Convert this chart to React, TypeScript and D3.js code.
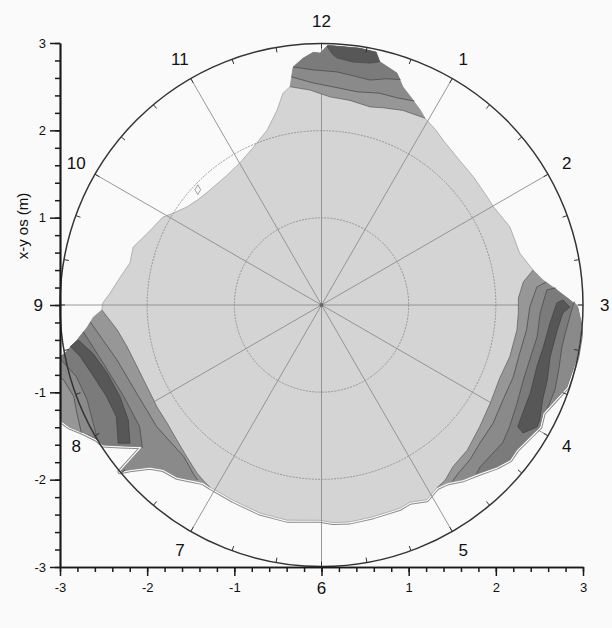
import { useEffect, useRef } from "react";
import * as d3 from "d3";

// every point is [clock angle in degrees (0 = 12 o'clock, clockwise), radius in m]
type P = [number, number];

const clockLabels = ["12", "1", "2", "3", "4", "5", "6", "7", "8", "9", "10", "11"];
const axisTicks = [-3, -2, -1, 0, 1, 2, 3];
const ringRadii = [1, 2];
const yTitle = "x-y os (m)";

// outer edge of the measured area
const outerEdge: P[] = [
  [-8.2, 2.53], [-6.8, 2.75], [-4.3, 2.84], [-1.9, 2.9], [-0.3, 2.89], [1.4, 2.98], [8.4, 2.98], [12.2, 2.97],
  [13.5, 2.87], [18, 2.8], [20.5, 2.67], [26.8, 2.51], [29, 2.45], [33, 2.4], [36.4, 2.35], [42.5, 2.3],
  [50, 2.28], [56.9, 2.27], [60, 2.27], [67.5, 2.34], [75.3, 2.35], [80.6, 2.46], [83.6, 2.56], [86.4, 2.71],
  [88.8, 2.85], [90.4, 2.94], [94, 2.99], [97.1, 2.99], [101.5, 2.99], [104.5, 2.98], [108.5, 2.97], [112.9, 2.88],
  [116, 2.83], [119.2, 2.87], [122.3, 2.83], [126.6, 2.79], [129.4, 2.8], [132.7, 2.74], [136.7, 2.65], [141, 2.58],
  [144.8, 2.5], [147.7, 2.48], [151.6, 2.54], [155.8, 2.48], [158.9, 2.5], [166.3, 2.5], [172.5, 2.51], [177, 2.5],
  [180.4, 2.47], [189.1, 2.5], [196.5, 2.49], [204.4, 2.46], [211.5, 2.45], [213.7, 2.45], [216.9, 2.51], [220, 2.58],
  [223.9, 2.62], [226.6, 2.71], [229.3, 2.9], [230.4, 3.0], [231.6, 2.62], [235, 2.82], [237.4, 2.98], [239, 3.0],
  [241.8, 3.1], [244.1, 3.21], [246.3, 3.28], [250, 3.6], [257, 3.3], [258.8, 3.06], [259.4, 2.99], [260.5, 2.92],
  [261.9, 2.83], [264.6, 2.7], [267, 2.62], [268.7, 2.52], [270.5, 2.51], [273.2, 2.43], [277.9, 2.33], [282.4, 2.25],
  [287.1, 2.26], [292.4, 2.16], [299, 2.08], [301.8, 2.0], [306.1, 1.91], [310.8, 1.86], [315, 1.84], [323.6, 1.84],
  [330.1, 1.88], [336.6, 1.97], [342.7, 2.1], [347.1, 2.29], [349.7, 2.47],
];

// contours near 12
const topC1: P[] = [[-8.2, 2.53], [-3.1, 2.47], [2.3, 2.39], [7.9, 2.37], [13.8, 2.34], [17.3, 2.37], [22.7, 2.42], [29, 2.45]];
const topC2: P[] = [[-7.5, 2.64], [-2.2, 2.55], [4.1, 2.5], [9.5, 2.48], [15.4, 2.52], [20, 2.53], [24.5, 2.57]];
const topC3: P[] = [[-6.8, 2.75], [-2.1, 2.7], [3.8, 2.68], [8.9, 2.65], [12.2, 2.64], [16, 2.7], [19.3, 2.74]];
const topC4: P[] = [[1.2, 2.97], [2.5, 2.88], [3.6, 2.84], [7.4, 2.81], [11.3, 2.83], [13.5, 2.87]];

// contours near 3-4
const rightC1: P[] = [[80.6, 2.46], [83.5, 2.33], [88, 2.26], [92.3, 2.26], [97.3, 2.26], [105.4, 2.24], [112, 2.21], [120.2, 2.24], [127.6, 2.29], [134.9, 2.36], [140.9, 2.39], [144.8, 2.46], [147.7, 2.48]];
const rightC2: P[] = [[84.2, 2.59], [85.2, 2.48], [90.5, 2.39], [96.9, 2.37], [103.6, 2.34], [110.6, 2.35], [117.6, 2.35], [124.5, 2.39], [131, 2.41], [136.2, 2.46], [141.1, 2.49], [143.5, 2.52]];
const rightC3: P[] = [[85.8, 2.69], [86.2, 2.59], [92.1, 2.51], [98.4, 2.5], [104.8, 2.47], [110.4, 2.47], [116.6, 2.51], [122.9, 2.57], [127.2, 2.61], [130.8, 2.6], [135.6, 2.6], [137.5, 2.63]];
const rightC3b: P[] = [[89.2, 2.9], [92, 2.86], [96, 2.82], [100, 2.8], [105, 2.82], [110, 2.85], [114.5, 2.85]];
const rightRidge: P[] = [
  [88.8, 2.77], [89.5, 2.7], [94.5, 2.63], [100.7, 2.59], [106.1, 2.57], [112.9, 2.6], [118.2, 2.62], [121.8, 2.65], [122.4, 2.74],
  [119.5, 2.84], [117.8, 2.83], [113.2, 2.76], [108.4, 2.73], [102.8, 2.69], [96.1, 2.72], [91.9, 2.77], [90.5, 2.85],
];

// contours near 8
const leftC1: P[] = [[211.5, 2.45], [213.7, 2.43], [216.5, 2.4], [221.5, 2.33], [227, 2.27], [232.6, 2.23], [238.2, 2.22], [244.8, 2.21], [251.4, 2.23], [257.8, 2.28], [263, 2.36], [268.7, 2.52]];
const leftC2: P[] = [[215.3, 2.46], [217.3, 2.43], [222.3, 2.35], [233.6, 2.35], [244.5, 2.35], [255, 2.43], [265.8, 2.66]];
const leftC3: P[] = [[231.4, 2.63], [236.2, 2.51], [245.2, 2.5], [255, 2.59], [263.6, 2.75]];
const leftC4: P[] = [[239.6, 2.99], [242.6, 2.95], [248, 2.9], [253.7, 2.93], [258.6, 3.07]];
const leftC5: P[] = [[242, 3.12], [246.1, 3.07], [249.7, 3.03], [253.8, 3.08], [256, 3.2]];
const leftRidge: P[] = [
  [234.2, 2.71], [239.2, 2.58], [245.5, 2.54], [252.4, 2.58], [258, 2.68], [261.8, 2.82],
  [260.6, 2.92], [257.9, 2.83], [252.6, 2.74], [246.9, 2.68], [241.4, 2.68], [235.8, 2.82],
];

const markerPoint: P = [313, 1.94];

const levelColors = ["#d4d4d4", "#979797", "#8a8a8a", "#7b7b7b", "#575757"];
const font = "'Liberation Sans', Arial, sans-serif";

const App = () => {
  const svgRef = useRef<SVGSVGElement>(null);

  useEffect(() => {
    const svg = d3.select(svgRef.current);
    svg.selectAll("*").remove();

    const x = d3.scaleLinear().domain([-3, 3]).range([60, 583]);
    const y = d3.scaleLinear().domain([-3, 3]).range([567, 43]);
    const r = d3.scaleLinear().domain([0, 3]).range([0, x(3) - x(0)]);
    const cx = x(0), cy = y(0);
    const rad = (a: number) => (a * Math.PI) / 180;

    const open = d3.lineRadial<P>().angle((d) => rad(d[0])).radius((d) => r(d[1]));
    const closed = d3.lineRadial<P>().angle((d) => rad(d[0])).radius((d) => r(d[1])).curve(d3.curveLinearClosed);
    // area between a contour and the outer edge
    const band = (c: P[]): P[] => {
      const t0 = c[0][0], t1 = c[c.length - 1][0];
      return [...c, ...outerEdge.filter((p) => p[0] > t0 && p[0] < t1).reverse()];
    };

    svg.append("rect").attr("width", 612).attr("height", 628).attr("fill", "#fafafa");
    svg.append("defs").append("clipPath").attr("id", "frame")
      .append("rect").attr("x", x(-3)).attr("y", y(3)).attr("width", x(3) - x(-3)).attr("height", y(-3) - y(3));

    const g = svg.append("g").attr("clip-path", "url(#frame)")
      .append("g").attr("transform", `translate(${cx},${cy})`);

    // halo along the lower edge
    const halo = outerEdge.filter((p) => p[0] >= 94 && p[0] <= 246.3);
    g.append("path").attr("d", open(halo)).attr("fill", "none").attr("stroke", "#8a8a8a").attr("stroke-width", 5).attr("stroke-linejoin", "round");
    g.append("path").attr("d", open(halo)).attr("fill", "none").attr("stroke", "#fafafa").attr("stroke-width", 3).attr("stroke-linejoin", "round");

    g.append("path").attr("d", closed(outerEdge)).attr("fill", levelColors[0]).attr("stroke", "#999").attr("stroke-width", 0.7);

    // grid
    d3.range(0, 360, 30).forEach((a) => {
      g.append("line")
        .attr("x1", 0).attr("y1", 0)
        .attr("x2", r(3) * Math.sin(rad(a))).attr("y2", -r(3) * Math.cos(rad(a)))
        .attr("stroke", "#8c8c8c").attr("stroke-width", 0.9);
    });
    ringRadii.forEach((rr) => {
      g.append("circle").attr("r", r(rr)).attr("fill", "none")
        .attr("stroke", "#8f8f8f").attr("stroke-width", 0.9).attr("stroke-dasharray", "2 1.2");
    });

    const fillBand = (pts: P[], level: number) =>
      g.append("path").attr("d", closed(pts)).attr("fill", levelColors[level]).attr("stroke", "none");
    const line = (pts: P[], w = 0.8) =>
      g.append("path").attr("d", open(pts)).attr("fill", "none").attr("stroke", "#4c4c4c").attr("stroke-width", w);

    // top
    fillBand(band(topC1), 1);
    fillBand(band(topC2), 2);
    fillBand(band(topC3), 3);
    fillBand(band(topC4), 4);
    line(topC1, 0.6); line(topC2); line(topC3); line(topC4);

    // right
    fillBand(band(rightC1), 1);
    fillBand(band(rightC2), 2);
    fillBand(band(rightC3), 3);
    fillBand(band(rightC3b), 2);
    line(rightC1, 0.6); line(rightC2); line(rightC3); line(rightC3b);
    g.append("path").attr("d", closed(rightRidge)).attr("fill", levelColors[4]).attr("stroke", "#444").attr("stroke-width", 0.8);

    // left
    fillBand(band(leftC1), 1);
    fillBand(band(leftC2), 2);
    fillBand(band(leftC3), 3);
    fillBand(band(leftC4), 2);
    fillBand(band(leftC5), 1);
    line(leftC1, 0.6); line(leftC2); line(leftC3); line(leftC4); line(leftC5);
    g.append("path").attr("d", closed(leftRidge)).attr("fill", levelColors[4]).attr("stroke", "#444").attr("stroke-width", 0.8);

    // marker
    g.append("path")
      .attr("d", d3.symbol(d3.symbolDiamond, 28)())
      .attr("transform", `translate(${r(markerPoint[1]) * Math.sin(rad(markerPoint[0]))},${-r(markerPoint[1]) * Math.cos(rad(markerPoint[0]))})`)
      .attr("fill", "none").attr("stroke", "#888").attr("stroke-width", 0.8);

    const c = svg.append("g").attr("transform", `translate(${cx},${cy})`);
    c.append("circle").attr("r", 2).attr("fill", "#666");
    c.append("circle").attr("r", r(3)).attr("fill", "none").attr("stroke", "#333").attr("stroke-width", 1.5);
    d3.range(0, 360, 10).forEach((a) => {
      c.append("line")
        .attr("x1", (r(3) - 5) * Math.sin(rad(a))).attr("y1", -(r(3) - 5) * Math.cos(rad(a)))
        .attr("x2", r(3) * Math.sin(rad(a))).attr("y2", -r(3) * Math.cos(rad(a)))
        .attr("stroke", "#333").attr("stroke-width", 1);
    });

    c.selectAll(".clock").data(clockLabels).enter().append("text")
      .attr("x", (d, i) => r(3.25) * Math.sin(rad(i * 30)))
      .attr("y", (d, i) => -r(3.25) * Math.cos(rad(i * 30)))
      .attr("text-anchor", "middle").attr("dominant-baseline", "central")
      .style("font-family", font).style("font-size", "17px").attr("fill", "#111")
      .text((d) => d);

    // axes
    const minor = d3.range(-30, 31, 2).map((v) => v / 10);
    const label = (d: d3.NumberValue) => (+d === 0 ? "" : String(d));

    const left = svg.append("g").attr("transform", `translate(${x(-3)},0)`);
    left.append("g").call(d3.axisLeft(y).tickValues(minor).tickSize(5).tickSizeOuter(0).tickFormat(() => ""));
    left.append("g").call(d3.axisLeft(y).tickValues(axisTicks).tickSize(10).tickSizeOuter(0).tickPadding(4).tickFormat(label));

    const bottom = svg.append("g").attr("transform", `translate(0,${y(-3)})`);
    bottom.append("g").call(d3.axisBottom(x).tickValues(minor).tickSize(5).tickSizeOuter(0).tickFormat(() => ""));
    bottom.append("g").call(d3.axisBottom(x).tickValues(axisTicks).tickSize(9).tickSizeOuter(0).tickPadding(7).tickFormat(label));

    svg.selectAll(".domain").attr("stroke", "#1a1a1a").attr("stroke-width", 1.7);
    svg.selectAll(".tick line").attr("stroke", "#1a1a1a").attr("stroke-width", 1.5);
    svg.selectAll(".tick text").style("font-family", font).style("font-size", "13px").attr("fill", "#111");

    svg.append("text")
      .attr("transform", "rotate(-90)")
      .attr("x", -226).attr("y", 22)
      .attr("text-anchor", "middle").attr("dominant-baseline", "central")
      .style("font-family", font).style("font-size", "15px").attr("fill", "#111")
      .text(yTitle);
  }, []);

  return <svg ref={svgRef} width={612} height={628} style={{ position: "absolute", left: 0, top: 0 }} />;
};

export default App;
